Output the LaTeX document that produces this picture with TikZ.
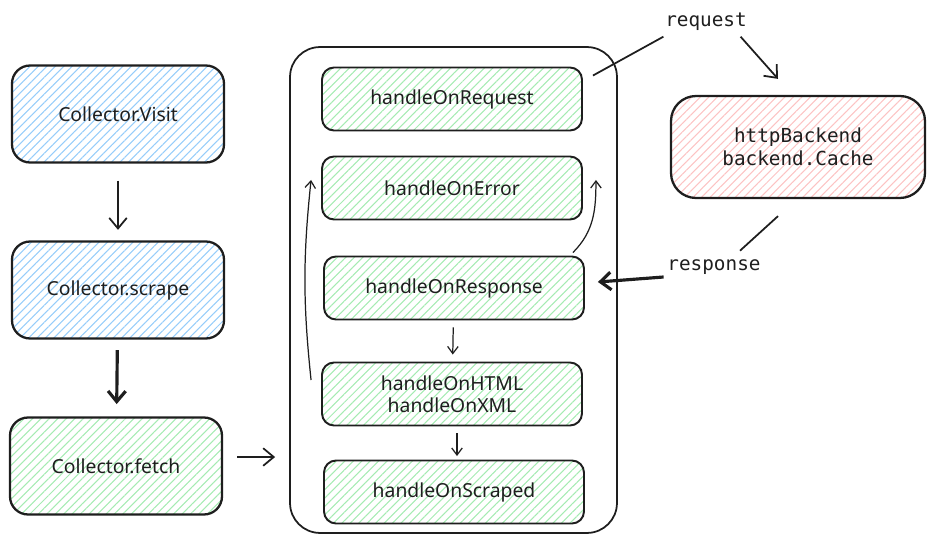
\documentclass[tikz,border=0pt]{standalone}
\usepackage{fontspec}
\setmainfont{Noto Sans}
\setmonofont{DejaVu Sans Mono}
\usetikzlibrary{arrows.meta,positioning,calc,patterns.meta}
\usepackage{xcolor}
\definecolor{inkblack}{RGB}{30,30,30}
\definecolor{hatchblue}{RGB}{150,205,250}
\definecolor{hatchgreen}{RGB}{165,235,178}
\definecolor{hatchred}{RGB}{252,195,195}
\tikzset{
    stage/.style={rectangle, draw=inkblack, line width=1.3pt, rounded corners=0.36cm, minimum width=4.24cm, minimum height=1.94cm, align=center, text=inkblack, font=\fontsize{11}{13}\selectfont},
    bluestage/.style={stage, pattern={Lines[angle=45,distance=3.4pt,line width=0.6pt]}, pattern color=hatchblue},
    greenstage/.style={stage, pattern={Lines[angle=45,distance=3.4pt,line width=0.6pt]}, pattern color=hatchgreen},
    handler/.style={rectangle, draw=inkblack, line width=1.1pt, rounded corners=0.24cm, minimum width=5.2cm, minimum height=1.26cm, align=center, text=inkblack, font=\fontsize{11}{12.5}\selectfont, pattern={Lines[angle=45,distance=3.4pt,line width=0.6pt]}, pattern color=hatchgreen},
    store/.style={rectangle, draw=inkblack, line width=1.3pt, rounded corners=0.5cm, minimum width=5.08cm, minimum height=2.04cm, align=center, text=inkblack, font=\ttfamily\fontsize{11}{13}\selectfont, pattern={Lines[angle=45,distance=3.4pt,line width=0.6pt]}, pattern color=hatchred},
    container/.style={rectangle, draw=inkblack, line width=1pt, rounded corners=0.6cm, minimum width=6.54cm, minimum height=9.72cm},
    msg/.style={text=inkblack, inner sep=2pt, font=\ttfamily\fontsize{11}{13}\selectfont},
    flow/.style={line width=1pt, draw=inkblack, -{Straight Barb[length=6pt,width=10pt]}},
    heavyflow/.style={flow, line width=1.8pt},
    smallflow/.style={line width=0.7pt, draw=inkblack, -{Straight Barb[length=4pt,width=6pt]}},
    link/.style={line width=1pt, draw=inkblack}
}

\begin{document}
\begin{tikzpicture}[x=0.02cm, y=-0.02cm]
    \useasboundingbox (0,0) rectangle (934,544);

    % Collector calls
    \node[bluestage] (visit) at (118,114) {Collector.Visit};
    \node[bluestage] (scrape) at (118,290) {Collector.scrape};
    \node[greenstage] (fetch) at (116,466) {Collector.fetch};

    % Callback handlers
    \node[container] (handlers) at (453.5,290) {};
    \node[handler] (onrequest) at (452,99) {handleOnRequest};
    \node[handler] (onerror) at (452,188) {handleOnError};
    \node[handler] (onresponse) at (454,288) {handleOnResponse};
    \node[handler] (onhtml) at (452,394) {handleOnHTML\\handleOnXML};
    \node[handler] (onscraped) at (454,492) {handleOnScraped};

    % Backend
    \node[store] (backend) at (798,147) {httpBackend\\backend.Cache};
    \node[msg] (request) at (706,22) {request};
    \node[msg] (response) at (714,267) {response};

    % Call chain
    \draw[flow, shorten <=10pt, shorten >=6pt] (visit) -- (scrape);
    \draw[heavyflow, shorten <=6pt, shorten >=7pt] (scrape) -- (fetch);
    \draw[flow, shorten <=8pt, shorten >=8pt] ([shift={(0,-9)}]fetch.east) -- ([shift={(0,-9)}]fetch.east -| handlers.west);

    % Inside the handlers
    \draw[smallflow, shorten <=4pt, shorten >=4pt] (onresponse) -- (onhtml);
    \draw[smallflow, shorten <=4pt, shorten >=2pt] ([shift={(5,0)}]onhtml.south) -- ([shift={(3,0)}]onscraped.north);
    \draw[smallflow] ([shift={(-10,-14)}]onhtml.west) to[bend left=6] ([shift={(-10,-8)}]onerror.west);
    \draw[smallflow] ([shift={(-12,-3)}]onresponse.north east) to[out=45,in=-90] ([shift={(13,-8)}]onerror.east);

    % Request and response
    \draw[link] ([shift={(10,9)}]onrequest.north east) -- ([shift={(2,2)}]request.south west);
    \draw[flow] ([shift={(-10,2)}]request.south east) -- ([shift={(-20,-16)}]backend.north);
    \draw[link] ([shift={(-20,17)}]backend.south) -- ([shift={(26,-5)}]response.north);
    \draw[heavyflow] ([shift={(0,10)}]response.west) -- ([shift={(13,-6)}]onresponse.east);
\end{tikzpicture}
\end{document}
